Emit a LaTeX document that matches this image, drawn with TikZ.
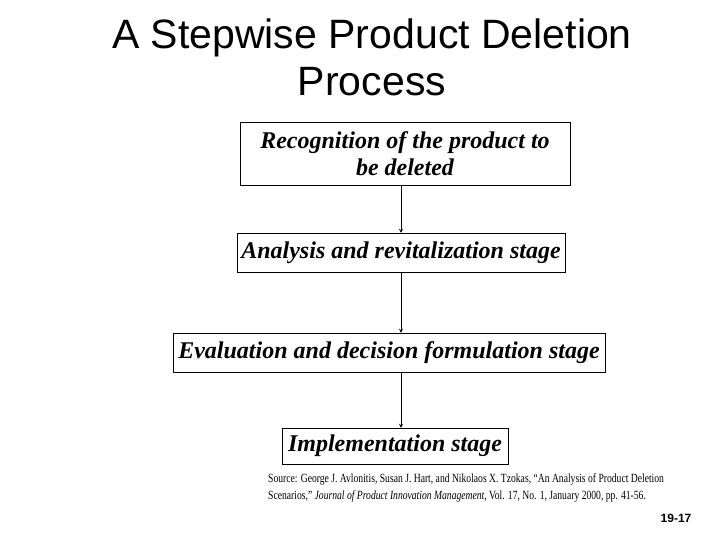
\documentclass[tikz,border=0pt]{standalone}
\usepackage{fontspec}
\setmainfont{Liberation Serif}
\newfontfamily\arialfont{Liberation Sans}
\usetikzlibrary{positioning}

\tikzstyle{stage} = [rectangle, draw=black, text centered, align=center,
  font=\fontsize{24}{27}\selectfont\bfseries\itshape, inner sep=1pt]
\tikzstyle{flow} = [->, >=stealth, thick]

\begin{document}
\begin{tikzpicture}[x=1pt, y=-1pt]
\useasboundingbox (0,0) rectangle (720,540);

% title
\node[font=\arialfont\fontsize{41}{47}\selectfont, align=center] (title)
  at (372,57) {A Stepwise Product Deletion\\Process};

% stages
\node[stage, minimum width=330, minimum height=63] (recog) at (405,153.5)
  {Recognition of the product to\\be deleted};
\node[stage, minimum width=328, minimum height=39] (analysis) at (401,252.5)
  {Analysis and revitalization stage};
\node[stage, minimum width=432, minimum height=39] (evaluation) at (389,352.5)
  {Evaluation and decision formulation stage};
\node[stage, minimum width=226, minimum height=36] (implement) at (395,446)
  {Implementation stage};

\draw[flow] (recog.south -| 401,0) -- (analysis.north -| 401,0);
\draw[flow] (analysis.south -| 401,0) -- (evaluation.north -| 401,0);
\draw[flow] (evaluation.south -| 401,0) -- (implement.north -| 401,0);

% source
\node[anchor=north west, inner sep=0pt] (source) at (268,470)
  {\scalebox{0.77}[1]{\fontsize{12.5}{17}\selectfont
   \begin{tabular}{@{}l@{}}
   Source: George J. Avlonitis, Susan J. Hart, and Nikolaos X. Tzokas, ``An Analysis of Product Deletion\\
   Scenarios,'' \textit{Journal of Product Innovation Management}, Vol. 17, No. 1, January 2000, pp. 41-56.
   \end{tabular}}};

\node[font=\arialfont\bfseries\fontsize{12}{14}\selectfont] (page) at (676,518) {19-17};
\end{tikzpicture}
\end{document}
